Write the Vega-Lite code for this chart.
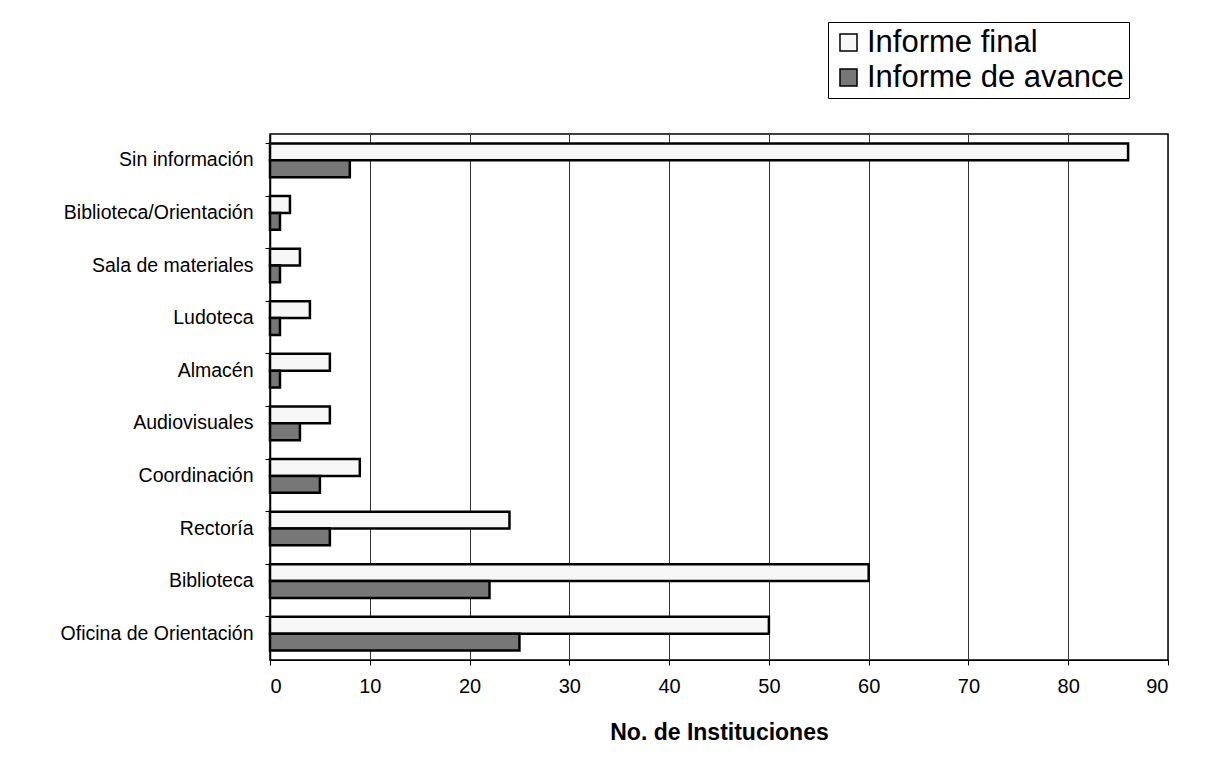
{
  "$schema": "https://vega.github.io/schema/vega-lite/v6.json",
  "width": 898,
  "height": 526,
  "autosize": "none",
  "padding": {"left": 270, "top": 134, "right": 37, "bottom": 99},
  "background": "white",
  "config": {
    "font": "Liberation Sans",
    "view": {"stroke": "black", "strokeWidth": 1.5}
  },
  "data": {
    "values": [
      {"cat": "Sin información", "serie": "Informe final", "n": 86},
      {"cat": "Sin información", "serie": "Informe de avance", "n": 8},
      {"cat": "Biblioteca/Orientación", "serie": "Informe final", "n": 2},
      {"cat": "Biblioteca/Orientación", "serie": "Informe de avance", "n": 1},
      {"cat": "Sala de materiales", "serie": "Informe final", "n": 3},
      {"cat": "Sala de materiales", "serie": "Informe de avance", "n": 1},
      {"cat": "Ludoteca", "serie": "Informe final", "n": 4},
      {"cat": "Ludoteca", "serie": "Informe de avance", "n": 1},
      {"cat": "Almacén", "serie": "Informe final", "n": 6},
      {"cat": "Almacén", "serie": "Informe de avance", "n": 1},
      {"cat": "Audiovisuales", "serie": "Informe final", "n": 6},
      {"cat": "Audiovisuales", "serie": "Informe de avance", "n": 3},
      {"cat": "Coordinación", "serie": "Informe final", "n": 9},
      {"cat": "Coordinación", "serie": "Informe de avance", "n": 5},
      {"cat": "Rectoría", "serie": "Informe final", "n": 24},
      {"cat": "Rectoría", "serie": "Informe de avance", "n": 6},
      {"cat": "Biblioteca", "serie": "Informe final", "n": 60},
      {"cat": "Biblioteca", "serie": "Informe de avance", "n": 22},
      {"cat": "Oficina de Orientación", "serie": "Informe final", "n": 50},
      {"cat": "Oficina de Orientación", "serie": "Informe de avance", "n": 25}
    ]
  },
  "mark": {"type": "bar", "stroke": "black", "strokeWidth": 2.5},
  "encoding": {
    "y": {
      "field": "cat",
      "type": "nominal",
      "sort": null,
      "scale": {"paddingInner": 0.36, "paddingOuter": 0.18},
      "axis": {
        "title": null,
        "labelFontSize": 19.5,
        "labelColor": "black",
        "labelPadding": 12,
        "labelLimit": 300,
        "bandPosition": 0,
        "ticks": true,
        "tickSize": 5,
        "tickColor": "black",
        "domainColor": "black",
        "domainWidth": 1.5,
        "grid": false
      }
    },
    "yOffset": {"field": "serie", "type": "nominal", "sort": ["Informe final", "Informe de avance"]},
    "x": {
      "field": "n",
      "type": "quantitative",
      "scale": {"domain": [0, 90], "nice": false},
      "axis": {
        "values": [0, 10, 20, 30, 40, 50, 60, 70, 80, 90],
        "title": "No. de Instituciones",
        "titleFontSize": 23,
        "titleFontWeight": "bold",
        "titleColor": "black",
        "titlePadding": 25,
        "labelFontSize": 20,
        "labelColor": "black",
        "labelPadding": 11,
        "tickSize": 5,
        "tickColor": "black",
        "domainColor": "black",
        "grid": true,
        "gridColor": "#333333",
        "gridWidth": 1
      }
    },
    "fill": {
      "field": "serie",
      "type": "nominal",
      "sort": ["Informe final", "Informe de avance"],
      "scale": {"domain": ["Informe final", "Informe de avance"], "range": ["#f7f7f7", "#777777"]},
      "legend": {
        "title": null,
        "orient": "none",
        "legendX": 558,
        "legendY": -112,
        "labelFontSize": 31,
        "labelColor": "black",
        "labelLimit": 500,
        "symbolType": "square",
        "symbolSize": 290,
        "symbolStrokeColor": "black",
        "symbolStrokeWidth": 1.5,
        "strokeColor": "black",
        "padding": 5,
        "rowPadding": 3,
        "labelOffset": 3,
        "cornerRadius": 0
      }
    }
  }
}
